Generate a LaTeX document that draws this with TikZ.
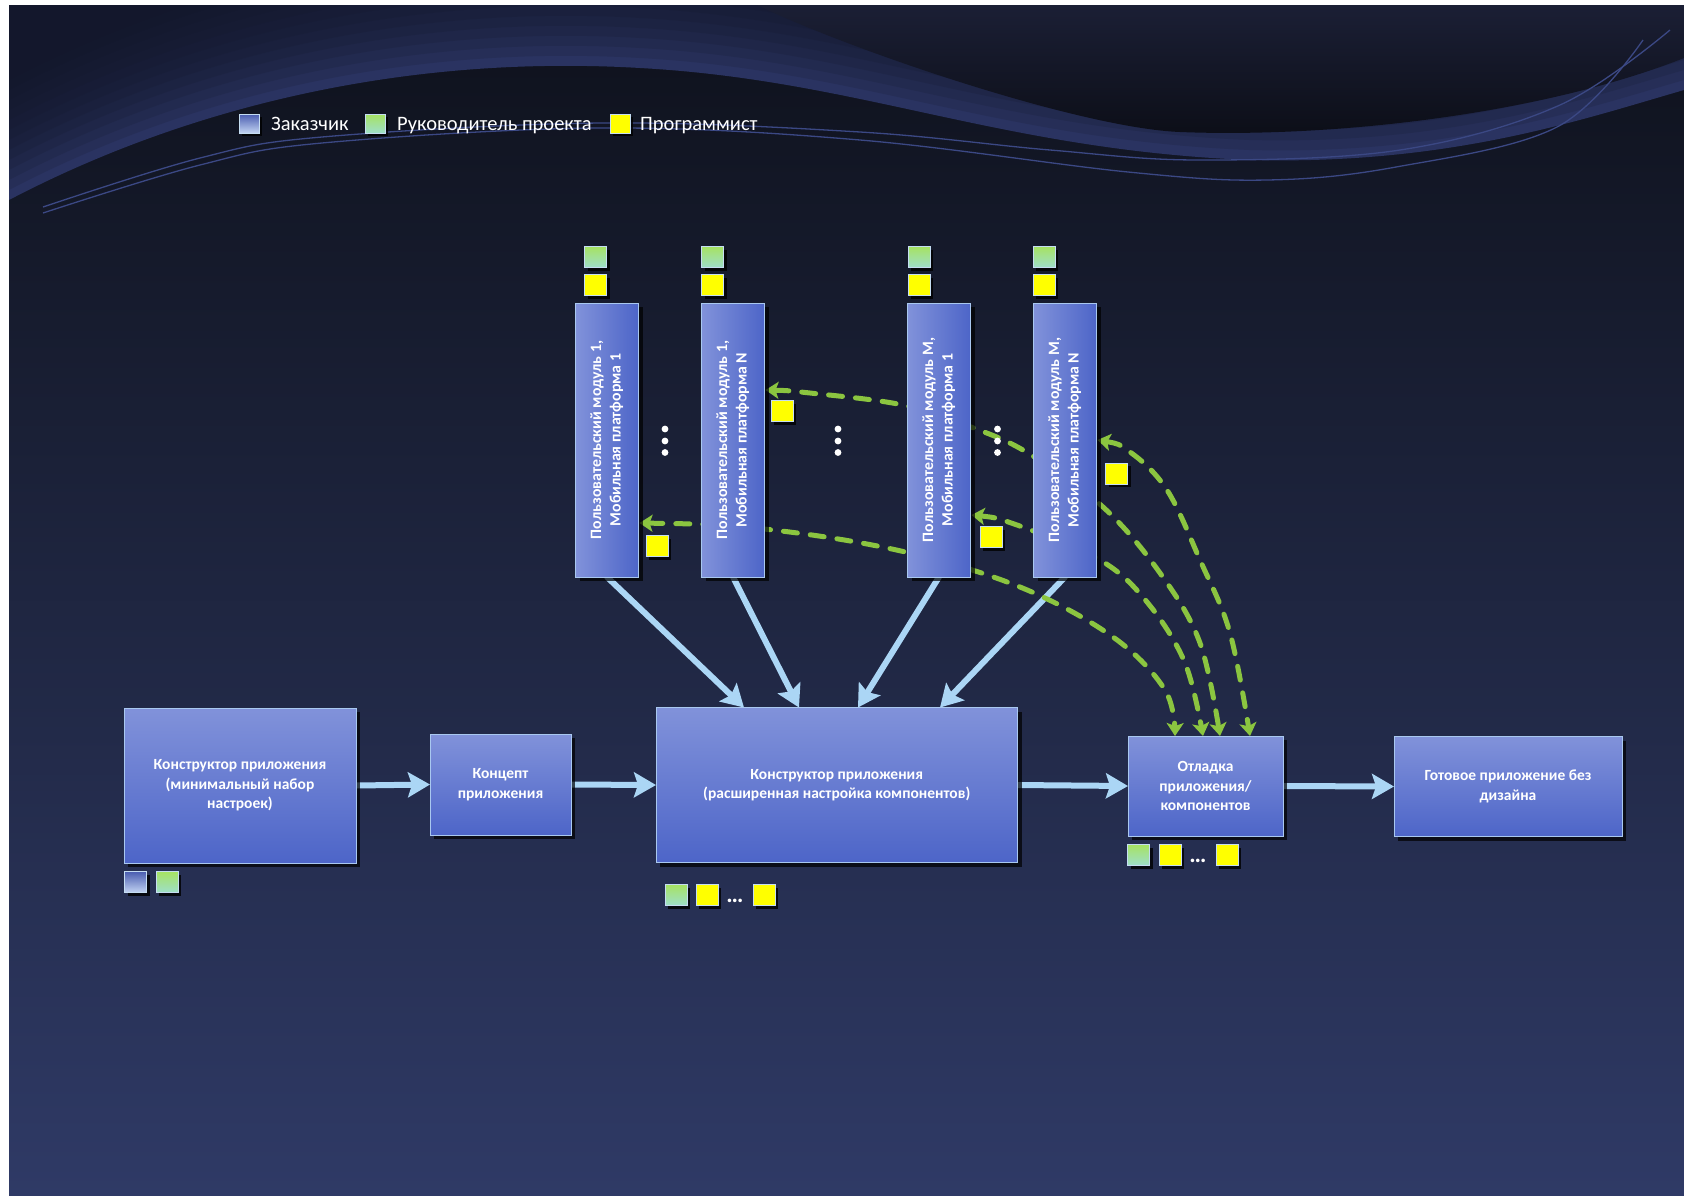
\documentclass[tikz,border=0pt]{standalone}
\usepackage{fontspec}
\usepackage{graphicx}
\setmainfont{Carlito}
\usetikzlibrary{arrows.meta,calc,shadows}

\pgfdeclarelayer{bg}
\pgfdeclarelayer{links}
\pgfsetlayers{bg,links,main}

\definecolor{bgtop}{HTML}{0E111B}
\definecolor{bgmid}{HTML}{1E2340}
\definecolor{bgbot}{HTML}{2F3A66}
\definecolor{bandc}{HTML}{2A3361}
\definecolor{darkc}{HTML}{131728}
\definecolor{captop}{HTML}{1B1F35}
\definecolor{capbot}{HTML}{0C0E17}
\definecolor{wavec}{HTML}{3B4884}
\definecolor{boxlt}{HTML}{8192DA}
\definecolor{boxdk}{HTML}{4D65C8}
\definecolor{boxline}{HTML}{A9C8F0}
\definecolor{flowc}{HTML}{ABD6F5}
\definecolor{loopc}{HTML}{8BC540}
\definecolor{pmtop}{HTML}{A6E262}
\definecolor{pmbot}{HTML}{9EDFC9}
\definecolor{cltop}{HTML}{4A5DB0}
\definecolor{clbot}{HTML}{C2D3F2}
\definecolor{devc}{HTML}{FFFF00}
\definecolor{sqline}{HTML}{C5DDF2}

\newcommand\bxfont{\fontsize{15.5}{19.5}\selectfont\bfseries}
\newcommand\vxfont{\fontsize{15.8}{19.6}\selectfont\bfseries}
\newcommand\lgfont{\fontsize{20.5}{24}\selectfont}
\newcommand\elfont{\fontsize{24}{24}\selectfont\bfseries}
\newcommand\vtext[2]{\rotatebox{90}{\begin{tabular}{@{}c@{}}#1\\#2\end{tabular}}}

\tikzset{
  box/.style={rectangle, draw=boxline, line width=1pt, inner sep=0pt, outer sep=0pt,
    text=white, align=center,
    drop shadow={shadow xshift=4pt, shadow yshift=-4pt, opacity=0.7, fill=black}},
  hbox/.style={box, font=\bxfont, top color=boxlt, bottom color=boxdk},
  vbox/.style={box, font=\vxfont, left color=boxlt, right color=boxdk,
    minimum width=63pt, minimum height=274pt},
  sq/.style={rectangle, draw=sqline, line width=0.8pt, inner sep=0pt, outer sep=0pt,
    minimum width=22pt, minimum height=21pt,
    drop shadow={shadow xshift=3pt, shadow yshift=-3pt, opacity=0.8, fill=black}},
  lgsq/.style={minimum width=20pt, minimum height=19pt},
  pm/.style={sq, top color=pmtop, bottom color=pmbot},
  dev/.style={sq, fill=devc},
  cl/.style={sq, top color=cltop, bottom color=clbot},
  lgtext/.style={anchor=base west, inner sep=0pt, text=white, font=\lgfont},
  ellip/.style={inner sep=0pt, text=white, font=\elfont},
  flow/.style={draw=flowc, line width=6pt, line cap=round,
    -{Stealth[length=22pt, width=25pt, inset=4pt]}},
  loopline/.style={draw=loopc, line width=5pt, line cap=round,
    dash pattern=on 14pt off 13pt,
    {Stealth[length=13pt, width=17pt, inset=3pt]}-{Stealth[length=13pt, width=17pt, inset=3pt]}},
  wave/.style={draw=wavec, line width=1.3pt},
}

\begin{document}
\begin{tikzpicture}[x=1pt, y=-1pt]

% ---------- background ----------
\begin{pgfonlayer}{bg}
  \fill[white] (0,0) rectangle (1684,1195);
  \shade[top color=bgtop, middle color=bgmid, bottom color=bgbot] (9,5) rectangle (1684,1195);
  \begin{scope}
    \clip (9,5) rectangle (1684,1195);
    % light ribbon with a sharp lower edge
    \fill[bandc] (9,200) .. controls (200,100) and (420,55) .. (640,68)
      .. controls (860,80) and (1000,150) .. (1250,160)
      .. controls (1450,165) and (1580,120) .. (1684,90)
      -- (1684,-200) -- (9,-200) -- cycle;
    % fading of the ribbon towards the top
    \foreach \k in {10,20,...,120} {
      \fill[darkc, opacity=0.17, yshift=\k pt] (9,200) .. controls (200,100) and (420,55) .. (640,68)
        .. controls (860,80) and (1000,150) .. (1250,160)
        .. controls (1450,165) and (1580,120) .. (1684,90)
        -- (1684,-300) -- (9,-300) -- cycle;
    }
    % dark cap in the upper right corner
    \shade[top color=captop, bottom color=capbot] (757,5) .. controls (850,50) and (1080,128) .. (1180,132)
      .. controls (1330,138) and (1540,115) .. (1684,58) -- (1684,5) -- cycle;
    % thin wave lines
    \draw[wave] plot[smooth, tension=0.6] coordinates {(43,213) (200,165) (322,143) (601,128) (860,140) (1128,172) (1267,180) (1396,167) (1557,127) (1643,40)};
    \draw[wave] plot[smooth, tension=0.6] coordinates {(43,207) (200,158) (322,137) (601,123) (860,132) (1050,150) (1200,160) (1400,150) (1560,105) (1670,30)};
  \end{scope}
\end{pgfonlayer}

% ---------- legend ----------
\node[cl, lgsq] (lgc) at (249,123.5) {};
\node[lgtext] (lgct) at (271,130) {Заказчик};
\node[pm, lgsq] (lgp) at (375,123.5) {};
\node[lgtext] (lgpt) at (397,130) {Руководитель проекта};
\node[dev, lgsq] (lgd) at (620,123.5) {};
\node[lgtext] (lgdt) at (640,130) {Программист};

% ---------- main chain ----------
\node[hbox, minimum width=232pt, minimum height=155pt] (A) at (240,785.5)
  {Конструктор приложения\\(минимальный набор\\настроек)};
\node[hbox, minimum width=141pt, minimum height=101pt] (B) at (500.5,784.5)
  {Концепт\\приложения};
\node[hbox, minimum width=361.5pt, minimum height=155pt] (C) at (836.75,785)
  {Конструктор приложения\\(расширенная настройка компонентов)};
\node[hbox, minimum width=155pt, minimum height=100pt] (D) at (1205.5,786)
  {Отладка\\приложения/\\компонентов};
\node[hbox, minimum width=228pt, minimum height=100pt] (E) at (1508,786.5)
  {Готовое приложение без\\дизайна};

% ---------- user modules ----------
\node[vbox] (V1) at (607,440) {\vtext{Пользовательский модуль 1,}{Мобильная платформа 1}};
\node[vbox] (V2) at (733,440) {\vtext{Пользовательский модуль 1,}{Мобильная платформа N}};
\node[vbox] (V3) at (939,440) {\vtext{Пользовательский модуль M,}{Мобильная платформа 1}};
\node[vbox] (V4) at (1065,440) {\vtext{Пользовательский модуль M,}{Мобильная платформа N}};

% roles above the modules
\node[pm]  (p1) at (595.5,257) {};
\node[dev] (y1) at (595.5,285) {};
\node[pm]  (p2) at (712.5,257) {};
\node[dev] (y2) at (712.5,285) {};
\node[pm]  (p3) at (919,257) {};
\node[dev] (y3) at (919,285) {};
\node[pm]  (p4) at (1044,257) {};
\node[dev] (y4) at (1044,285) {};

% ellipsis between modules
\foreach \x in {665,838,997.5} {
  \fill[white] (\x,429) circle (3.4);
  \fill[white] (\x,441) circle (3.4);
  \fill[white] (\x,452.5) circle (3.4);
}

% roles under the chain
\node[cl] (ca) at (135.5,882) {};
\node[pm] (pa) at (167,882) {};
\node[pm]  (pc) at (676,895) {};
\node[dev] (yc1) at (707,895) {};
\node[ellip, anchor=base] (ec) at (735,902) {…};
\node[dev] (yc2) at (764,895) {};
\node[pm]  (pd) at (1138.5,855) {};
\node[dev] (yd1) at (1170,855) {};
\node[ellip, anchor=base] (ed) at (1198,862) {…};
\node[dev] (yd2) at (1227,855) {};

% programmers on the debugging loops
\node[dev] (yl1) at (657.3,546) {};
\node[dev] (yl2) at (782,411) {};
\node[dev] (yl3) at (991.3,537) {};
\node[dev] (yl4) at (1116.5,473.5) {};

% ---------- connectors ----------
\coordinate (c1) at ($(C.north west)+(88,0)$);
\coordinate (c2) at ($(C.north west)+(143,0)$);
\coordinate (c3) at ($(C.north west)+(202,0)$);
\coordinate (c4) at ($(C.north west)+(284,0)$);
\coordinate (m1) at ($(V1.east)+(1,83)$);
\coordinate (m2) at ($(V2.east)+(1,-50)$);
\coordinate (m3) at ($(V3.east)+(1,75)$);
\coordinate (m4) at ($(V4.east)+(1,0)$);
\coordinate (d1) at ($(D.north)+(-30.5,0)$);
\coordinate (d2) at ($(D.north)+(-2.5,0)$);
\coordinate (d3) at ($(D.north)+(14.5,0)$);
\coordinate (d4) at ($(D.north)+(44.5,0)$);

\begin{pgfonlayer}{links}
  \draw[flow] (A.east) -- (B.west);
  \draw[flow] (B.east) -- (C.west);
  \draw[flow] (C.east) -- (D.west);
  \draw[flow] (D.east) -- (E.west);
  \draw[flow] (V1.south) -- (c1);
  \draw[flow] (V2.south) -- (c2);
  \draw[flow] (V3.south) -- (c3);
  \draw[flow] (V4.south) -- (c4);

  \draw[loopline] plot[smooth, tension=0.6] coordinates
    {(m1) (764,529) (901,551) (1020,587) (1113,637) (1165,690) (d1)};
  \draw[loopline] plot[smooth, tension=0.6] coordinates
    {(m3) (1017,525) (1100,560) (1147,602) (1185,663) (d2)};
  \draw[loopline] plot[smooth, tension=0.6] coordinates
    {(m2) (810,393) (903,405) (971,427) (1028,453) (1103,507) (1160,573) (1200,643) (d3)};
  \draw[loopline] plot[smooth, tension=0.6] coordinates
    {(m4) (1130,452) (1167,490) (1200,560) (1230,633) (d4)};
\end{pgfonlayer}

\end{tikzpicture}
\end{document}
